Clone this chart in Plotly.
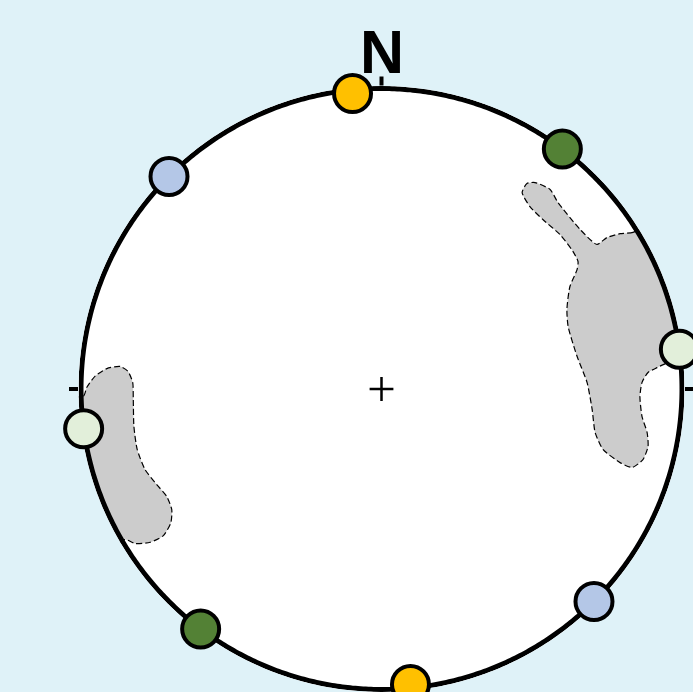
import numpy as np
import plotly.graph_objects as go

# Poles plotted near the primitive circle
# (azimuth in degrees clockwise from N, radial distance on a unit net)
pole_azimuths = [354.4, 174.4, 37.0, 217.0, 315.0, 135.0, 82.4, 262.4]
pole_radii = [0.988, 0.988, 1.0, 1.0, 1.0, 1.0, 1.0, 1.0]
pole_colors = ["#FFC000", "#FFC000", "#538135", "#538135",
               "#B4C7E7", "#B4C7E7", "#E2EFDA", "#E2EFDA"]

# Density contour outlines in net coordinates (east, north), unit radius.
# Points beyond r = 1 close each polygon outside the primitive.
east_contour_x = [0.95, 0.837, 0.794, 0.750, 0.717, 0.661, 0.587, 0.561, 0.511,
                  0.484, 0.468, 0.494, 0.537, 0.594, 0.637, 0.654, 0.651, 0.627,
                  0.617, 0.621, 0.651, 0.684, 0.701, 0.711, 0.737, 0.794, 0.834,
                  0.870, 0.887, 0.884, 0.867, 0.860, 0.867, 0.887, 0.917, 0.947,
                  1.10, 1.15, 0.95]
east_contour_y = [0.58, 0.521, 0.517, 0.504, 0.481, 0.531, 0.621, 0.664, 0.687,
                  0.684, 0.654, 0.607, 0.564, 0.514, 0.458, 0.424, 0.398, 0.341,
                  0.265, 0.208, 0.108, 0.022, -0.068, -0.145, -0.201, -0.245, -0.261,
                  -0.235, -0.191, -0.145, -0.092, -0.025, 0.022, 0.055, 0.071, 0.085,
                  0.10, 0.40, 0.58]

west_contour_x = [-1.10, -0.992, -0.981, -0.953, -0.914, -0.870, -0.844, -0.828,
                  -0.826, -0.824, -0.813, -0.787, -0.748, -0.715, -0.698, -0.701,
                  -0.726, -0.770, -0.820, -0.854, -0.95, -1.15, -1.10]
west_contour_y = [-0.03, -0.024, 0.005, 0.043, 0.068, 0.075, 0.059, 0.022,
                  -0.035, -0.124, -0.201, -0.268, -0.318, -0.357, -0.401, -0.445,
                  -0.488, -0.510, -0.514, -0.501, -0.56, -0.30, -0.03]

direction_ticks = [0, 90, 180, 270]
north_label = "N"

# net geometry in pixels
W, H = 693, 692
CX, CY = 381.5, 389.0          # centre of the net (from top-left)
R_PX = 300.5                   # radius of the primitive
RIM_W = 5                      # primitive line width
R_MAX = 1 + (RIM_W / 2) / R_PX # radial range reaches the outer edge of the rim line
R_OUT = R_PX * R_MAX


def to_polar(xs, ys):
    xs = np.asarray(xs, dtype=float)
    ys = np.asarray(ys, dtype=float)
    r = np.hypot(xs, ys)
    theta = np.degrees(np.arctan2(xs, ys)) % 360
    return r, theta


fig = go.Figure()

for cx, cy in [(east_contour_x, east_contour_y), (west_contour_x, west_contour_y)]:
    r, th = to_polar(cx, cy)
    fig.add_trace(go.Scatterpolar(
        r=r, theta=th, mode="lines", fill="toself",
        fillcolor="#CCCCCC",
        line=dict(color="black", width=1.2, dash="6px,3px", shape="spline", smoothing=0.6),
        hoverinfo="skip", showlegend=False,
    ))

# primitive circle of the net
rim_theta = np.linspace(0, 360, 721)
fig.add_trace(go.Scatterpolar(
    r=np.ones_like(rim_theta), theta=rim_theta, mode="lines",
    line=dict(color="black", width=RIM_W),
    hoverinfo="skip", showlegend=False,
))

# centre mark
fig.add_trace(go.Scatterpolar(
    r=[0], theta=[0], mode="markers",
    marker=dict(symbol="cross-thin", size=17, line=dict(color="black", width=2.5)),
    hoverinfo="skip", showlegend=False,
))

# poles
fig.add_trace(go.Scatterpolar(
    r=pole_radii, theta=pole_azimuths, mode="markers",
    marker=dict(size=37, color=pole_colors, line=dict(color="black", width=4)),
    cliponaxis=False, hoverinfo="skip", showlegend=False,
))

fig.update_layout(
    width=W, height=H,
    margin=dict(l=0, r=0, t=0, b=0),
    paper_bgcolor="#DFF2F8",
    showlegend=False,
    polar=dict(
        domain=dict(x=[(CX - R_OUT) / W, (CX + R_OUT) / W],
                    y=[max(0.0, (H - CY - R_OUT) / H), (H - CY + R_OUT) / H]),
        bgcolor="white",
        radialaxis=dict(visible=False, range=[0, R_MAX]),
        angularaxis=dict(
            rotation=90, direction="clockwise",
            showgrid=False, showline=False,
            ticks="outside", ticklen=9, tickwidth=4, tickcolor="black",
            tickmode="array", tickvals=direction_ticks,
            ticktext=[""] * len(direction_ticks),
            layer="below traces",
        ),
    ),
    annotations=[dict(
        text=north_label, showarrow=False,
        xref="paper", yref="paper", x=CX / W, y=(H - 52) / H,
        xanchor="center", yanchor="middle",
        font=dict(family="Liberation Sans", size=61, color="black", weight="bold"),
    )],
)

fig.write_html("out.html")
